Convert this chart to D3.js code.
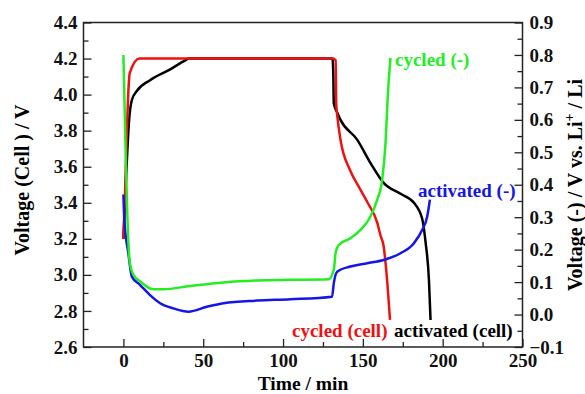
<!DOCTYPE html>
<html>
<head>
<meta charset="utf-8">
<script src="https://cdn.jsdelivr.net/npm/d3@7"></script>
<style>
  body { margin: 0; background: #fff; }
  svg text { font-family: "Liberation Serif", "Times New Roman", serif; font-weight: bold; }
</style>
</head>
<body>
<div id="chart"></div>
<script>
// tick labels
var timeTicks = [0, 50, 100, 150, 200, 250];
var timeMinor = [25, 75, 125, 175, 225];
var cellTicks = [2.6, 2.8, 3.0, 3.2, 3.4, 3.6, 3.8, 4.0, 4.2, 4.4];
var cellMinor = [2.7, 2.9, 3.1, 3.3, 3.5, 3.7, 3.9, 4.1, 4.3];
var negTicks = [-0.1, 0.0, 0.1, 0.2, 0.3, 0.4, 0.5, 0.6, 0.7, 0.8, 0.9];
var negMinor = [-0.05, 0.05, 0.15, 0.25, 0.35, 0.45, 0.55, 0.65, 0.75, 0.85];

// cycled (cell) - left axis
var cycledCellT = [0, 1, 2, 3, 4, 10, 131, 133, 133.3, 134, 136, 142, 148, 153, 159, 161, 163, 165, 167];
var cycledCellV = [3.2, 3.45, 3.75, 4.0, 4.12, 4.2, 4.2, 4.19, 3.95, 3.88, 3.75, 3.58, 3.48, 3.40, 3.29, 3.22, 3.16, 2.99, 2.75];

// activated (cell) - left axis
var actCellT = [0, 1, 2, 3.5, 5.3, 8.4, 16.7, 29.3, 38.7, 41, 131, 131.5, 131.8, 134, 136, 146.4, 154.8, 163, 173.6, 182, 187.2, 189.3, 191.4, 192.4];
var actCellV = [3.2, 3.4, 3.6, 3.85, 3.97, 4.02, 4.08, 4.14, 4.19, 4.2, 4.2, 4.1, 3.95, 3.9, 3.86, 3.75, 3.62, 3.51, 3.45, 3.40, 3.31, 3.18, 2.97, 2.75];

// cycled (-) - right axis
var cycledNegT = [0, 1.5, 2.5, 4, 6, 10.5, 18.8, 25, 41.8, 62.7, 83.7, 104.6, 128.6, 131.8, 132.9, 135, 142.2, 148.5, 154.8, 159, 162.1, 164.2, 165.6, 167.3];
var cycledNegV = [0.8, 0.48, 0.30, 0.16, 0.125, 0.102, 0.078, 0.078, 0.088, 0.099, 0.105, 0.107, 0.109, 0.138, 0.189, 0.215, 0.235, 0.261, 0.302, 0.354, 0.415, 0.529, 0.673, 0.791];

// activated (-) - right axis
var actNegT = [0, 0.6, 3.1, 5.3, 10.5, 16.7, 23, 31.4, 40.8, 52.3, 62.7, 83.7, 104.6, 130.7, 131.8, 133.9, 142.2, 152.7, 163, 173.6, 182, 187.2, 190.3, 192];
var actNegV = [0.37, 0.29, 0.189, 0.117, 0.091, 0.060, 0.035, 0.019, 0.009, 0.024, 0.035, 0.043, 0.047, 0.055, 0.097, 0.132, 0.148, 0.158, 0.168, 0.189, 0.220, 0.261, 0.302, 0.354];

var width = 585, height = 394;
var margin = {left: 83.5, right: 62.5, top: 22.5, bottom: 47};
var w = width - margin.left - margin.right;
var h = height - margin.top - margin.bottom;

var svg = d3.select("#chart").append("svg")
    .attr("width", width)
    .attr("height", height);

var g = svg.append("g")
    .attr("transform", "translate(" + margin.left + "," + margin.top + ")");

var x = d3.scaleLinear().domain([-25, 250]).range([0, w]);
var yL = d3.scaleLinear().domain([2.6, 4.4]).range([h, 0]);
var yR = d3.scaleLinear().domain([-0.1, 0.9]).range([h, 0]);

// axes, ticks point inwards
var bottomAxis = g.append("g").attr("class", "axis")
    .attr("transform", "translate(0," + h + ")")
    .call(d3.axisBottom(x).tickValues(timeTicks).tickSize(-8).tickPadding(5).tickFormat(d3.format("d")));
g.append("g").attr("class", "axis")
    .attr("transform", "translate(0," + h + ")")
    .call(d3.axisBottom(x).tickValues(timeMinor).tickSize(-5).tickFormat(""));

g.append("g").attr("class", "axis")
    .call(d3.axisLeft(yL).tickValues(cellTicks).tickSize(-8).tickPadding(6).tickFormat(d3.format(".1f")));
g.append("g").attr("class", "axis")
    .call(d3.axisLeft(yL).tickValues(cellMinor).tickSize(-5).tickFormat(""));

g.append("g").attr("class", "axis")
    .attr("transform", "translate(" + w + ",0)")
    .call(d3.axisRight(yR).tickValues(negTicks).tickSize(-8).tickPadding(7).tickFormat(d3.format(".1f")));
g.append("g").attr("class", "axis")
    .attr("transform", "translate(" + w + ",0)")
    .call(d3.axisRight(yR).tickValues(negMinor).tickSize(-5).tickFormat(""));

g.selectAll(".axis .domain").remove();
g.selectAll(".axis line").attr("stroke", "#222").attr("stroke-width", 1.3);
g.selectAll(".axis text").attr("font-size", 19).attr("fill", "#111")
    .style("font-family", "'Liberation Serif', serif").style("font-weight", "bold");
bottomAxis.selectAll("text").attr("dy", "0.8em");

g.append("rect")
    .attr("width", w).attr("height", h)
    .attr("fill", "none").attr("stroke", "#222").attr("stroke-width", 1.5);

// curves
var lineL = d3.line().x(function (d) { return x(d[0]); }).y(function (d) { return yL(d[1]); });
var lineR = d3.line().x(function (d) { return x(d[0]); }).y(function (d) { return yR(d[1]); });

var series = [
    {t: actCellT, v: actCellV, line: lineL, color: "#000000"},
    {t: cycledCellT, v: cycledCellV, line: lineL, color: "#ee1111"},
    {t: actNegT, v: actNegV, line: lineR, color: "#1515e6"},
    {t: cycledNegT, v: cycledNegV, line: lineR, color: "#22ee22"}
];

series.forEach(function (s) {
    var pts = s.t.map(function (t, i) { return [t, s.v[i]]; });
    g.append("path")
        .attr("d", s.line.curve(d3.curveMonotoneX)(pts))
        .attr("fill", "none")
        .attr("stroke", s.color)
        .attr("stroke-width", 2.5)
        .attr("stroke-linejoin", "round");
});

// series labels
var labels = [
    {text: "cycled (-)", x: 395, y: 66, color: "#22ee22"},
    {text: "activated (-)", x: 418, y: 197, color: "#1515e6"},
    {text: "cycled (cell)", x: 292, y: 337, color: "#ee1111"},
    {text: "activated (cell)", x: 394, y: 337, color: "#000000"}
];
svg.selectAll(".lbl").data(labels).enter().append("text")
    .attr("class", "lbl")
    .attr("x", function (d) { return d.x; })
    .attr("y", function (d) { return d.y; })
    .attr("fill", function (d) { return d.color; })
    .attr("font-size", 19)
    .text(function (d) { return d.text; });

// axis titles
svg.append("text")
    .attr("x", margin.left + x(112.5)).attr("y", 390)
    .attr("text-anchor", "middle").attr("font-size", 19.5)
    .text("Time / min");

svg.append("text")
    .attr("transform", "translate(29,180)rotate(-90)")
    .attr("text-anchor", "middle").attr("font-size", 20)
    .text("Voltage (Cell ) / V");

var rt = svg.append("text")
    .attr("transform", "translate(582,185)rotate(-90)")
    .attr("text-anchor", "middle").attr("font-size", 20);
rt.append("tspan").text("Voltage (-) / V vs. Li");
rt.append("tspan").attr("dy", -8).attr("font-size", 14).text("+");
rt.append("tspan").attr("dy", 8).text(" / Li");
</script>
</body>
</html>
